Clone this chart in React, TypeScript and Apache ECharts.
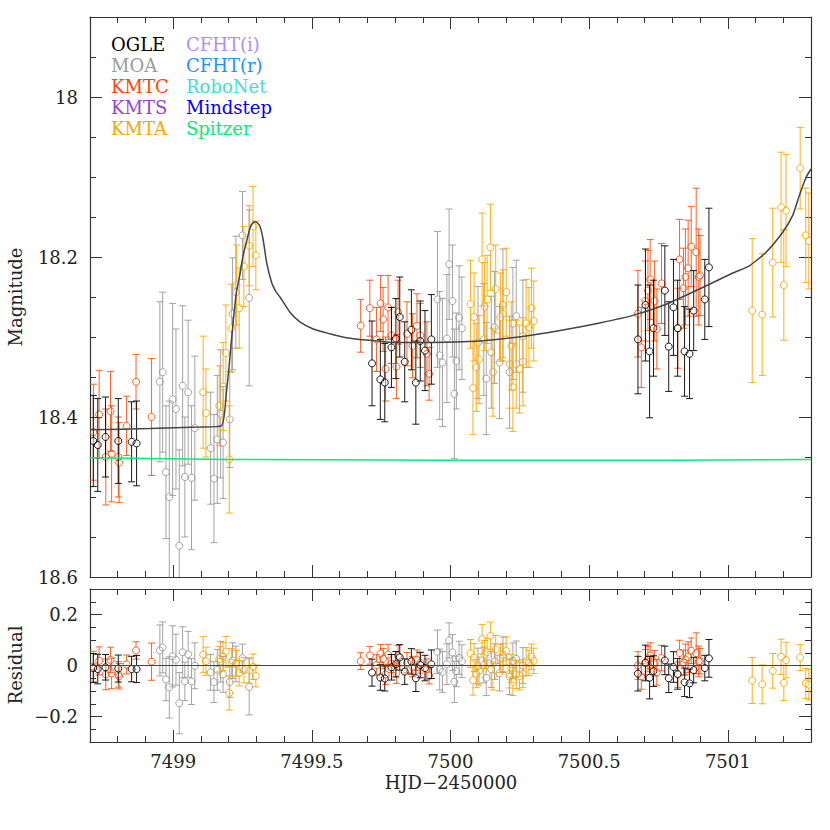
import React, { useEffect, useRef } from 'react';
import * as echarts from 'echarts';

// ---------- axis configuration ----------
const X_MIN = 7498.7;
const X_MAX = 7501.3;
const xMajorTicks = [7499, 7499.5, 7500, 7500.5, 7501];
const xTickLabels = ['7499', '7499.5', '7500', '7500.5', '7501'];
const magMin = 17.9;
const magMax = 18.6;
const magMajorTicks = [18, 18.2, 18.4, 18.6];
const magTickLabels = ['18', '18.2', '18.4', '18.6'];
const resMin = -0.3;
const resMax = 0.3;
const resMajorTicks = [-0.2, 0, 0.2];
const resTickLabels = ['\u22120.2', '0', '0.2'];

// ---------- OGLE ----------
const ogleT = [7498.712, 7498.728, 7498.756, 7498.802, 7498.850, 7498.868,
  7499.717, 7499.747, 7499.763, 7499.787, 7499.803, 7499.817, 7499.835, 7499.859, 7499.875, 7499.891, 7499.908, 7499.931,
  7500.676, 7500.703, 7500.718, 7500.732, 7500.773, 7500.787, 7500.804, 7500.819, 7500.844, 7500.862, 7500.877, 7500.917, 7500.932];
const ogleMag = [18.430, 18.435, 18.425, 18.430, 18.431, 18.433,
  18.333, 18.353, 18.357, 18.313, 18.302, 18.275, 18.331, 18.291, 18.357, 18.305, 18.317, 18.303,
  18.303, 18.260, 18.318, 18.289, 18.242, 18.312, 18.263, 18.289, 18.318, 18.321, 18.267, 18.253, 18.213];
const ogleErr = [0.057, 0.058, 0.050, 0.053, 0.050, 0.053,
  0.053, 0.050, 0.049, 0.050, 0.050, 0.050, 0.050, 0.050, 0.052, 0.050, 0.050, 0.056,
  0.068, 0.070, 0.083, 0.060, 0.056, 0.056, 0.060, 0.060, 0.056, 0.056, 0.050, 0.050, 0.074];
const ogleRes = [-0.010, -0.014, -0.007, -0.012, -0.014, -0.014,
  -0.028, -0.047, -0.051, -0.007, 0.005, 0.032, -0.024, 0.016, -0.050, 0.002, -0.010, 0.005,
  -0.032, 0.010, -0.048, -0.022, 0.020, -0.050, -0.006, -0.033, -0.066, -0.070, -0.018, -0.010, 0.028];

// ---------- MOA ----------
const moaT = [7498.952, 7498.962, 7498.974, 7498.986, 7498.998, 7499.010, 7499.022, 7499.034, 7499.042, 7499.054, 7499.066,
  7499.078, 7499.135, 7499.147, 7499.159, 7499.171, 7499.180, 7499.204, 7499.214, 7499.226, 7499.250, 7499.274,
  7499.953, 7499.961, 7499.971, 7499.987, 7499.995, 7500.007, 7500.014, 7500.021, 7500.031, 7500.041,
  7500.099, 7500.120, 7500.129, 7500.147, 7500.159, 7500.177, 7500.189, 7500.213, 7500.225, 7500.237, 7500.261];
const moaMag = [18.356, 18.344, 18.469, 18.500, 18.378, 18.390, 18.561, 18.361, 18.475, 18.369, 18.476,
  18.414, 18.439, 18.477, 18.428, 18.396, 18.432, 18.403, 18.271, 18.244, 18.173, 18.251,
  18.253, 18.323, 18.332, 18.302, 18.209, 18.255, 18.371, 18.330, 18.276, 18.289,
  18.307, 18.303, 18.352, 18.319, 18.288, 18.332, 18.260, 18.344, 18.283, 18.274, 18.299];
const moaErr = [0.100, 0.100, 0.083, 0.120, 0.120, 0.100, 0.120, 0.100, 0.075, 0.090, 0.090,
  0.090, 0.070, 0.080, 0.080, 0.080, 0.070, 0.060, 0.070, 0.070, 0.055, 0.110,
  0.085, 0.080, 0.080, 0.080, 0.069, 0.070, 0.081, 0.060, 0.065, 0.064,
  0.070, 0.070, 0.070, 0.070, 0.070, 0.070, 0.070, 0.070, 0.070, 0.070, 0.070];
const moaRes = [0.059, 0.071, -0.055, -0.086, 0.036, 0.023, -0.148, 0.052, -0.062, 0.044, -0.063,
  -0.001, -0.027, -0.065, -0.017, 0.015, -0.035, -0.065, 0.019, 0.006, 0.029, -0.084,
  0.054, -0.016, -0.025, 0.005, 0.098, 0.051, -0.064, -0.023, 0.030, 0.017,
  -0.002, 0.002, -0.048, -0.016, 0.015, -0.030, 0.042, -0.044, 0.018, 0.026, 0.000];

// ---------- KMTC ----------
const kmtcT = [7498.712, 7498.733, 7498.757, 7498.774, 7498.778, 7498.802, 7498.805, 7498.832, 7498.866, 7498.922,
  7499.676, 7499.709, 7499.733, 7499.748, 7499.757, 7499.766, 7499.775, 7499.787, 7499.805, 7499.811, 7499.843,
  7499.863, 7499.879, 7499.891, 7499.915, 7499.923,
  7500.676, 7500.688, 7500.703, 7500.712, 7500.720, 7500.736, 7500.744, 7500.761, 7500.820, 7500.826, 7500.840,
  7500.847, 7500.857, 7500.868, 7500.886, 7500.895, 7500.900];
const kmtcMag = [18.419, 18.397, 18.450, 18.393, 18.446, 18.450, 18.457, 18.411, 18.356, 18.400,
  18.286, 18.264, 18.303, 18.258, 18.278, 18.340, 18.263, 18.298, 18.337, 18.269, 18.296,
  18.311, 18.286, 18.298, 18.321, 18.346,
  18.271, 18.313, 18.255, 18.242, 18.228, 18.255, 18.290, 18.233, 18.289, 18.203, 18.239,
  18.225, 18.214, 18.187, 18.194, 18.225, 18.223];
const kmtcErr = [0.060, 0.055, 0.060, 0.050, 0.060, 0.050, 0.050, 0.037, 0.034, 0.073,
  0.033, 0.035, 0.040, 0.035, 0.040, 0.040, 0.040, 0.035, 0.040, 0.040, 0.040,
  0.040, 0.040, 0.040, 0.040, 0.033,
  0.054, 0.050, 0.050, 0.050, 0.050, 0.050, 0.050, 0.050, 0.050, 0.050, 0.050,
  0.060, 0.060, 0.050, 0.080, 0.060, 0.050];
const kmtcRes = [-0.004, 0.018, -0.035, 0.022, -0.031, -0.035, -0.042, 0.004, 0.059, 0.015,
  0.017, 0.040, 0.002, 0.047, 0.027, -0.035, 0.043, 0.008, -0.030, 0.038, 0.011,
  -0.004, 0.021, 0.010, -0.014, -0.039,
  0.000, -0.043, 0.013, 0.025, 0.039, 0.009, -0.027, 0.029, -0.036, 0.049, 0.011,
  0.024, 0.033, 0.058, 0.048, 0.016, 0.017];

// ---------- KMTA ----------
const kmtaT = [7499.108, 7499.118, 7499.166, 7499.180, 7499.190, 7499.202, 7499.210, 7499.228, 7499.238, 7499.255,
  7499.274, 7499.288, 7499.298,
  7500.072, 7500.081, 7500.085, 7500.093, 7500.103, 7500.114, 7500.123, 7500.132, 7500.144, 7500.153, 7500.163,
  7500.180, 7500.189, 7500.201, 7500.213, 7500.219, 7500.225, 7500.237, 7500.249, 7500.261, 7500.273, 7500.283,
  7500.292, 7500.300,
  7501.088, 7501.124, 7501.162, 7501.192, 7501.202, 7501.210, 7501.261, 7501.281, 7501.292];
const kmtaMag = [18.369, 18.395, 18.386, 18.362, 18.320, 18.453, 18.289, 18.235, 18.264, 18.212,
  18.186, 18.162, 18.198,
  18.259, 18.364, 18.275, 18.338, 18.328, 18.203, 18.262, 18.253, 18.188, 18.344, 18.240,
  18.275, 18.271, 18.244, 18.334, 18.311, 18.363, 18.334, 18.340, 18.331, 18.283, 18.288,
  18.264, 18.280,
  18.267, 18.272, 18.207, 18.138, 18.235, 18.142, 18.089, 18.173, 18.180];
const kmtaErr = [0.070, 0.055, 0.050, 0.055, 0.060, 0.067, 0.055, 0.050, 0.050, 0.050,
  0.050, 0.050, 0.043,
  0.055, 0.058, 0.055, 0.055, 0.055, 0.058, 0.055, 0.055, 0.054, 0.055, 0.055,
  0.055, 0.055, 0.055, 0.055, 0.055, 0.055, 0.055, 0.055, 0.055, 0.055, 0.050,
  0.050, 0.050,
  0.090, 0.076, 0.068, 0.069, 0.069, 0.070, 0.051, 0.059, 0.060];
const kmtaRes = [0.043, 0.017, 0.025, 0.035, 0.054, -0.108, 0.011, 0.009, -0.030, -0.018,
  -0.019, -0.005, -0.041,
  0.047, -0.058, 0.031, -0.032, -0.022, 0.103, 0.043, 0.052, 0.116, -0.041, 0.063,
  0.028, 0.031, 0.057, -0.033, -0.011, -0.063, -0.035, -0.041, -0.032, 0.016, 0.010,
  0.034, 0.018,
  -0.059, -0.074, -0.021, 0.034, -0.068, 0.021, 0.031, -0.070, -0.075];

// ---------- model curve ----------
const modelT = [7498.700, 7498.916, 7499.096, 7499.174, 7499.192, 7499.204, 7499.216, 7499.228, 7499.240, 7499.252,
  7499.265, 7499.276, 7499.288, 7499.298, 7499.312, 7499.324, 7499.337, 7499.355, 7499.370, 7499.385, 7499.421,
  7499.457, 7499.505, 7499.565, 7499.625, 7499.673, 7499.805, 7499.925, 7500.045, 7500.165, 7500.285, 7500.410,
  7500.538, 7500.658, 7500.778, 7500.898, 7501.018, 7501.078, 7501.138, 7501.198, 7501.234, 7501.258, 7501.283,
  7501.300];
const modelMag = [18.416, 18.4145, 18.4125, 18.411, 18.369, 18.3275, 18.282, 18.244, 18.223, 18.198,
  18.180, 18.165, 18.157, 18.156, 18.161, 18.1775, 18.207, 18.232, 18.243, 18.250, 18.269,
  18.281, 18.290, 18.296, 18.301, 18.303, 18.307, 18.307, 18.306, 18.303, 18.298, 18.291,
  18.2825, 18.273, 18.259, 18.240, 18.220, 18.211, 18.194, 18.169, 18.148, 18.123, 18.100,
  18.090];

// ---------- Spitzer model (source flux line) ----------
const spitzerT = [7498.700, 7499.200, 7500.000, 7500.800, 7501.300];
const spitzerMag = [18.451, 18.453, 18.454, 18.454, 18.453];

// ---------- legend ----------
const legendLeft = ['OGLE', 'MOA', 'KMTC', 'KMTS', 'KMTA'];
const legendLeftColors = ['#000000', '#9a9a9a', '#ff4500', '#9a3fd8', '#ffa500'];
const legendRight = ['CFHT(i)', 'CFHT(r)', 'RoboNet', 'Mindstep', 'Spitzer'];
const legendRightColors = ['#b08cff', '#1e90ff', '#40e0d0', '#0000ff', '#00ee76'];

const FONT = "'DejaVu Serif', 'Liberation Serif', serif";
const AX = '#333333';

function zip3(a: number[], b: number[], c: number[]) {
  const n = Math.min(a.length, b.length, c.length);
  const out: number[][] = [];
  for (let i = 0; i < n; i++) out.push([a[i], b[i], c[i]]);
  return out;
}
function zip2(a: number[], b: number[]) {
  const n = Math.min(a.length, b.length);
  const out: number[][] = [];
  for (let i = 0; i < n; i++) out.push([a[i], b[i]]);
  return out;
}

function errSeries(name: string, color: string, data: number[][], xi: number, yi: number, opacity = 1) {
  return {
    type: 'custom',
    name,
    xAxisIndex: xi,
    yAxisIndex: yi,
    clip: true,
    silent: true,
    data,
    encode: { x: 0, y: 1 },
    renderItem: (_params: any, api: any) => {
      const x = api.value(0);
      const y = api.value(1);
      const e = api.value(2);
      const c = api.coord([x, y]);
      const a = api.coord([x, y - e]);
      const b = api.coord([x, y + e]);
      const top = Math.min(a[1], b[1]);
      const bot = Math.max(a[1], b[1]);
      const r = 3.5;
      const cap = 3.5;
      const st = { stroke: color, lineWidth: 1, fill: 'none', opacity };
      const ch: any[] = [];
      if (c[1] - r > top) ch.push({ type: 'line', shape: { x1: c[0], y1: top, x2: c[0], y2: c[1] - r }, style: st });
      if (c[1] + r < bot) ch.push({ type: 'line', shape: { x1: c[0], y1: c[1] + r, x2: c[0], y2: bot }, style: st });
      ch.push({ type: 'line', shape: { x1: c[0] - cap, y1: top, x2: c[0] + cap, y2: top }, style: st });
      ch.push({ type: 'line', shape: { x1: c[0] - cap, y1: bot, x2: c[0] + cap, y2: bot }, style: st });
      ch.push({ type: 'circle', shape: { cx: c[0], cy: c[1], r }, style: st });
      return { type: 'group', children: ch };
    },
  };
}

function labelOf(values: number[], labels: string[]) {
  return (v: number) => {
    const i = values.findIndex((t) => Math.abs(t - v) < 1e-6);
    return i >= 0 ? labels[i] : '';
  };
}

function xAxisDef(grid: number, pos: string, major: boolean, withLabels: boolean) {
  return {
    type: 'value',
    gridIndex: grid,
    position: pos,
    min: X_MIN,
    max: X_MAX,
    interval: 0.1,
    axisLine: { show: !major, onZero: false, lineStyle: { color: AX, width: 1.2 } },
    axisTick: major
      ? { show: true, inside: true, length: 12, customValues: xMajorTicks, lineStyle: { color: AX, width: 1 } }
      : { show: true, inside: true, length: 6, lineStyle: { color: AX, width: 1 } },
    axisLabel: withLabels
      ? {
          show: true,
          customValues: xMajorTicks,
          formatter: labelOf(xMajorTicks, xTickLabels),
          margin: 10,
          fontFamily: FONT,
          fontSize: 18,
          color: '#222',
        }
      : { show: false },
    splitLine: { show: false },
  };
}

function yAxisDef(grid: number, pos: string, major: boolean, withLabels: boolean, main: boolean) {
  const ticks = main ? magMajorTicks : resMajorTicks;
  const labels = main ? magTickLabels : resTickLabels;
  return {
    type: 'value',
    gridIndex: grid,
    position: pos,
    inverse: main,
    min: main ? magMin : resMin,
    max: main ? magMax : resMax,
    interval: 0.05,
    axisLine: { show: !major, onZero: false, lineStyle: { color: AX, width: 1.2 } },
    axisTick: major
      ? { show: true, inside: true, length: 12, customValues: ticks, lineStyle: { color: AX, width: 1 } }
      : { show: true, inside: true, length: 6, lineStyle: { color: AX, width: 1 } },
    axisLabel: withLabels
      ? {
          show: true,
          customValues: ticks,
          formatter: labelOf(ticks, labels),
          margin: 12,
          fontFamily: FONT,
          fontSize: 18,
          color: '#222',
        }
      : { show: false },
    splitLine: { show: false },
  };
}

export default function App() {
  const ref = useRef<HTMLDivElement>(null);
  useEffect(() => {
    if (!ref.current) return;
    const chart = echarts.init(ref.current, undefined, { renderer: 'svg' });

    const grids = [
      { left: 90, top: 17, width: 721, height: 560 },
      { left: 90, top: 589, width: 721, height: 153 },
    ];
    const xAxes = [
      xAxisDef(0, 'bottom', false, false),
      xAxisDef(0, 'bottom', true, false),
      xAxisDef(0, 'top', false, false),
      xAxisDef(0, 'top', true, false),
      xAxisDef(1, 'bottom', false, false),
      xAxisDef(1, 'bottom', true, true),
      xAxisDef(1, 'top', false, false),
      xAxisDef(1, 'top', true, false),
    ];
    const yAxes = [
      yAxisDef(0, 'left', false, false, true),
      yAxisDef(0, 'left', true, true, true),
      yAxisDef(0, 'right', false, false, true),
      yAxisDef(0, 'right', true, false, true),
      yAxisDef(1, 'left', false, false, false),
      yAxisDef(1, 'left', true, true, false),
      yAxisDef(1, 'right', false, false, false),
      yAxisDef(1, 'right', true, false, false),
    ];

    const sets = [
      { name: 'MOA', color: '#9a9a9a', t: moaT, m: moaMag, e: moaErr, r: moaRes, op: 0.9 },
      { name: 'KMTA', color: '#ffa500', t: kmtaT, m: kmtaMag, e: kmtaErr, r: kmtaRes, op: 0.9 },
      { name: 'KMTC', color: '#ff4500', t: kmtcT, m: kmtcMag, e: kmtcErr, r: kmtcRes, op: 0.85 },
      { name: 'OGLE', color: '#000000', t: ogleT, m: ogleMag, e: ogleErr, r: ogleRes, op: 0.9 },
    ];

    const series: any[] = [];
    sets.forEach((s) => {
      series.push(errSeries(s.name, s.color, zip3(s.t, s.m, s.e), 0, 0, s.op));
      series.push(errSeries(s.name + ' res', s.color, zip3(s.t, s.r, s.e), 4, 4, s.op));
    });
    series.push({
      type: 'line',
      name: 'Spitzer',
      xAxisIndex: 0,
      yAxisIndex: 0,
      data: zip2(spitzerT, spitzerMag),
      showSymbol: false,
      silent: true,
      lineStyle: { color: '#00ee76', width: 1.5 },
    });
    series.push({
      type: 'line',
      name: 'model',
      xAxisIndex: 0,
      yAxisIndex: 0,
      data: zip2(modelT, modelMag),
      showSymbol: false,
      silent: true,
      smooth: 0.2,
      lineStyle: { color: '#444444', width: 1.5 },
    });
    series.push({
      type: 'line',
      name: 'zero',
      xAxisIndex: 4,
      yAxisIndex: 4,
      data: [[X_MIN, 0], [X_MAX, 0]],
      showSymbol: false,
      silent: true,
      lineStyle: { color: '#444444', width: 1 },
    });

    const graphic: any[] = [];
    legendLeft.forEach((txt, i) => {
      graphic.push({
        type: 'text',
        left: 111,
        top: 35 + i * 21.2,
        style: { text: txt, fill: legendLeftColors[i], fontFamily: FONT, fontSize: 18 },
      });
    });
    legendRight.forEach((txt, i) => {
      graphic.push({
        type: 'text',
        left: 186,
        top: 35 + i * 21.2,
        style: { text: txt, fill: legendRightColors[i], fontFamily: FONT, fontSize: 18 },
      });
    });
    graphic.push({
      type: 'text',
      x: 15,
      y: 297,
      rotation: Math.PI / 2,
      style: { text: 'Magnitude', fill: '#222', fontFamily: FONT, fontSize: 18, align: 'center', verticalAlign: 'middle' },
    });
    graphic.push({
      type: 'text',
      x: 15,
      y: 665,
      rotation: Math.PI / 2,
      style: { text: 'Residual', fill: '#222', fontFamily: FONT, fontSize: 18, align: 'center', verticalAlign: 'middle' },
    });
    graphic.push({
      type: 'text',
      x: 451,
      y: 782,
      style: { text: 'HJD\u22122450000', fill: '#222', fontFamily: FONT, fontSize: 18, align: 'center', verticalAlign: 'middle' },
    });

    chart.setOption({
      animation: false,
      backgroundColor: '#ffffff',
      grid: grids,
      xAxis: xAxes,
      yAxis: yAxes,
      series,
      graphic,
    });
    return () => chart.dispose();
  }, []);
  return <div ref={ref} style={{ position: 'fixed', left: 0, top: 0, width: 830, height: 830 }} />;
}
